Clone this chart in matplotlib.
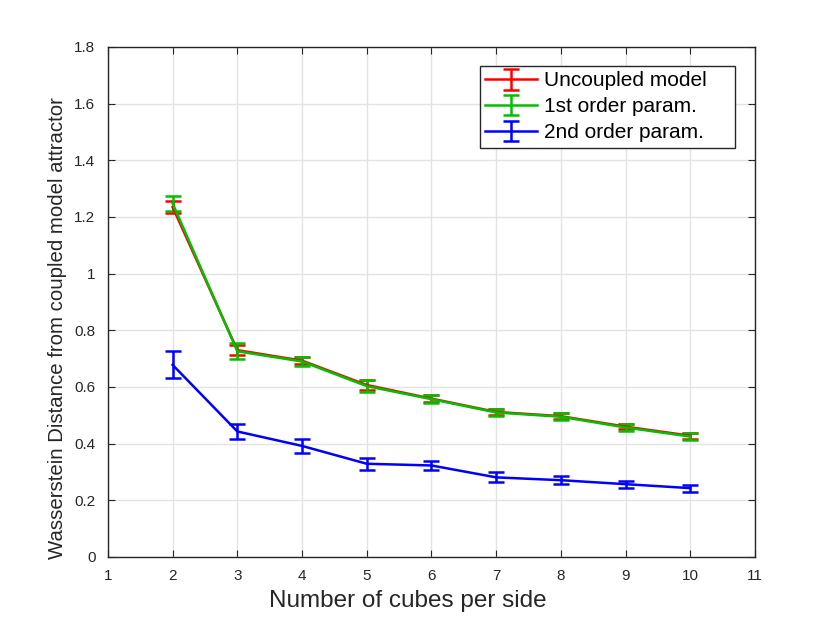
import matplotlib
matplotlib.use("Agg")
import matplotlib.pyplot as plt

x = [2, 3, 4, 5, 6, 7, 8, 9, 10]
uncoupled = [1.235, 0.730, 0.693, 0.607, 0.559, 0.512, 0.497, 0.460, 0.428]
uncoupled_err = [0.020, 0.017, 0.012, 0.018, 0.012, 0.010, 0.010, 0.010, 0.010]
first = [1.248, 0.726, 0.690, 0.603, 0.557, 0.510, 0.495, 0.457, 0.425]
first_err = [0.027, 0.028, 0.015, 0.022, 0.015, 0.013, 0.013, 0.012, 0.012]
second = [0.678, 0.443, 0.392, 0.329, 0.323, 0.281, 0.271, 0.257, 0.243]
second_err = [0.048, 0.025, 0.025, 0.022, 0.016, 0.018, 0.015, 0.012, 0.012]

plt.rcParams['font.family'] = ['Liberation Sans', 'DejaVu Sans']
fig = plt.figure(figsize=(8.3, 6.24), dpi=100)
ax = fig.add_axes([0.130, 0.1074, 0.7796, 0.8173])

kw = dict(linewidth=1.8, elinewidth=1.8, capsize=6, capthick=1.8)
ax.errorbar(x, uncoupled, yerr=uncoupled_err, color='#ff0000', label='Uncoupled model    ', **kw)
ax.errorbar(x, first, yerr=first_err, color='#00c000', label='1st order param.', **kw)
ax.errorbar(x, second, yerr=second_err, color='#0000ff', label='2nd order param.', **kw)

ax.set_xlim(1, 11)
ax.set_ylim(0, 1.8)
ax.set_xticks(range(1, 12))
ax.set_yticks([0, 0.2, 0.4, 0.6, 0.8, 1.0, 1.2, 1.4, 1.6, 1.8])
ax.set_yticklabels(['0', '0.2', '0.4', '0.6', '0.8', '1', '1.2', '1.4', '1.6', '1.8'])
ax.grid(True, color='#e3e3e3', linewidth=1)
ax.set_axisbelow(True)
ax.tick_params(direction='in', length=5, pad=9, labelsize=11, colors='#262626', top=True, right=True)
for s in ax.spines.values():
    s.set_color('#262626')
    s.set_linewidth(1)
ax.set_xlabel('Number of cubes per side', fontsize=17.5, color='#262626')
ax.set_ylabel('Wasserstein Distance from coupled model attractor', fontsize=14.7, color='#262626')
ax.xaxis.set_label_coords(0.463, -0.065)
ax.yaxis.set_label_coords(-0.063, 0.449)

leg = ax.legend(loc='upper right', bbox_to_anchor=(0.969, 0.963), borderaxespad=0,
                fontsize=15, fancybox=False, edgecolor='#262626', framealpha=1,
                handlelength=2.5, borderpad=0.27, labelspacing=0.33, handletextpad=0.3)
leg.get_frame().set_linewidth(1)

fig.savefig('out.png', dpi=100)
